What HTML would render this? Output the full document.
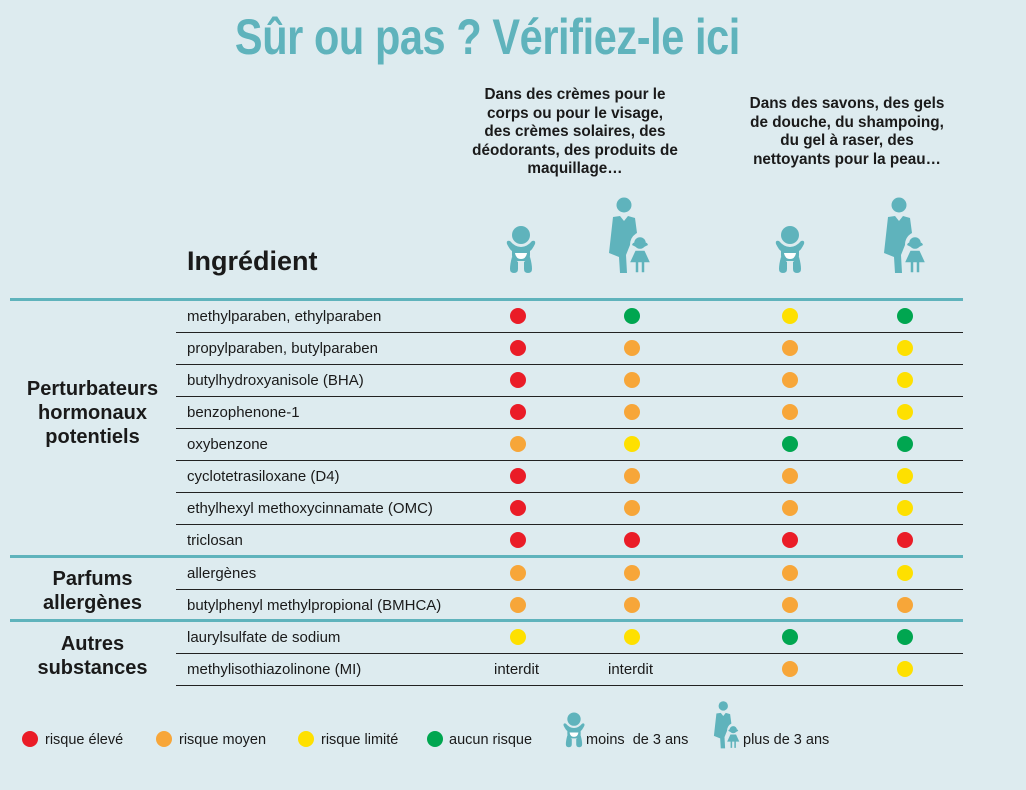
<!DOCTYPE html>
<html><head><meta charset="utf-8"><style>
*{margin:0;padding:0;box-sizing:border-box}
body{width:1026px;height:790px;background:#ddebef;position:relative;overflow:hidden;font-family:"Liberation Sans Narrow","Liberation Sans",sans-serif;color:#1a1a1a}
.a{position:absolute}
.title{left:0;width:975px;top:8px;text-align:center;font-size:50px;font-weight:bold;color:#5fb3bc;letter-spacing:-0.5px;transform:scaleX(0.83);transform-origin:487px 0}
.hd{font-size:15.3px;font-weight:bold;text-align:center;line-height:18.5px}
.ing{left:187px;top:246px;font-size:27px;font-weight:bold}
.thick{height:3px;background:#5fb3bc;left:10px;width:953px}
.thin{height:1px;background:#222;left:176px;width:787px}
.row{left:187px;font-size:15px;height:32px;line-height:32px}
.d{width:16px;height:16px;border-radius:50%}
.R{background:#ea1c27}.O{background:#f7a639}.Y{background:#fee000}.G{background:#00a650}
.grp{font-size:20px;font-weight:bold;text-align:center;line-height:24px;left:10px;width:165px}
.txt{font-size:15px}
.lg{font-size:14.5px;top:732px}
</style></head><body>
<svg width="0" height="0" style="position:absolute">
<defs>
<g id="baby" fill="#5fb3bc">
<circle cx="16" cy="11" r="9"/>
<path d="M2 20 Q1 16 5 17 Q10 23 16 23 Q22 23 27 17 Q31 16 30 20 Q27 26 25 27 L25 31 Q25 37 20 37 L12 37 Q7 37 7 31 L7 27 Q5 26 2 20Z"/>
<path d="M10 29 L22 29 Q21 35 16 35 Q11 35 10 29Z" fill="#fff"/>
<path d="M7 33 Q5 40 5 45 Q5 49 9 49 Q13 49 13 45 L13 38 Z M25 33 Q27 40 27 45 Q27 49 23 49 Q19 49 19 45 L19 38Z"/>
</g>
<g id="adult" fill="#5fb3bc">
<circle cx="16" cy="8" r="7.5"/>
<path d="M5 20 L12 19 L16 24 L20 19 L27 21 L29 36 Q22 40 22 48 L18 58 L19 76 L12 76 L11 60 L1 56Z"/>
<circle cx="32" cy="46" r="6.5" stroke="#ddebef" stroke-width="1.5"/>
<path d="M24 48 L28 50 L36 50 L40 48 L39 46 L35 45 L29 45 L25 46Z"/>
<path d="M27 53 L37 53 L43 66 L37 66 L37 76 L33 76 L33 66 L31 66 L31 76 L27 76 L27 66 L21 66Z" stroke="#ddebef" stroke-width="1.5"/>
</g>
</defs></svg>
<div class="a title">Sûr ou pas ? Vérifiez-le ici</div>
<div class="a hd" style="left:455px;width:240px;top:86px">Dans des crèmes pour le<br>corps ou pour le visage,<br>des crèmes solaires, des<br>déodorants, des produits de<br>maquillage…</div>
<div class="a hd" style="left:727px;width:240px;top:95px">Dans des savons, des gels<br>de douche, du shampoing,<br>du gel à raser, des<br>nettoyants pour la peau…</div>
<svg class="a" style="left:505px;top:224px" width="32" height="50" viewBox="0 0 32 50"><use href="#baby"/></svg>
<svg class="a" style="left:608px;top:197px" width="44" height="77" viewBox="0 0 44 77"><use href="#adult"/></svg>
<svg class="a" style="left:774px;top:224px" width="32" height="50" viewBox="0 0 32 50"><use href="#baby"/></svg>
<svg class="a" style="left:883px;top:197px" width="44" height="77" viewBox="0 0 44 77"><use href="#adult"/></svg>
<div class="a ing">Ingrédient</div>
<div class="a thick" style="top:298px"></div>
<div class="a thick" style="top:555px"></div>
<div class="a thick" style="top:619px"></div>
<div id="rows"></div>
<div class="a grp" style="top:377px">Perturbateurs<br>hormonaux<br>potentiels</div>
<div class="a grp" style="top:567px">Parfums<br>allergènes</div>
<div class="a grp" style="top:632px">Autres<br>substances</div>
<div class="a d R" style="left:22px;top:731px"></div><div class="a lg" style="left:45px">risque élevé</div>
<div class="a d O" style="left:156px;top:731px"></div><div class="a lg" style="left:179px">risque moyen</div>
<div class="a d Y" style="left:298px;top:731px"></div><div class="a lg" style="left:321px">risque limité</div>
<div class="a d G" style="left:427px;top:731px"></div><div class="a lg" style="left:449px">aucun risque</div>
<svg class="a" style="left:562px;top:711px" width="24" height="37" viewBox="0 0 32 50"><use href="#baby"/></svg>
<div class="a lg" style="left:586px">moins&nbsp; de 3 ans</div>
<svg class="a" style="left:713px;top:701px" width="28" height="48" viewBox="0 0 44 77"><use href="#adult"/></svg>
<div class="a lg" style="left:743px">plus de 3 ans</div>
<script>
var data=[["methylparaben, ethylparaben","RGYG"],["propylparaben, butylparaben","ROOY"],["butylhydroxyanisole (BHA)","ROOY"],["benzophenone-1","ROOY"],["oxybenzone","OYGG"],["cyclotetrasiloxane (D4)","ROOY"],["ethylhexyl methoxycinnamate (OMC)","ROOY"],["triclosan","RRRR"],["allergènes","OOOY"],["butylphenyl methylpropional (BMHCA)","OOOO"],["laurylsulfate de sodium","YYGG"],["methylisothiazolinone (MI)","IIOY"]];
var cx=[518,632,790,905],h="";
var tops=[301,333,365,397,429,461,493,525,558,590,622,654];
data.forEach(function(r,i){var t=tops[i];
h+='<div class="a row" style="top:'+t+'px">'+r[0]+'</div>';
if(i!=7&&i!=9)h+='<div class="a thin" style="top:'+(t+31)+'px"></div>';
for(var j=0;j<4;j++){var c=r[1][j];
if(c=="I")h+='<div class="a txt" style="left:'+(cx[j]-24)+'px;top:'+(t+7)+'px">interdit</div>';
else h+='<div class="a d '+c+'" style="left:'+(cx[j]-8)+'px;top:'+(t+7)+'px"></div>';}
});
document.getElementById("rows").innerHTML=h;
</script>
</body></html>
